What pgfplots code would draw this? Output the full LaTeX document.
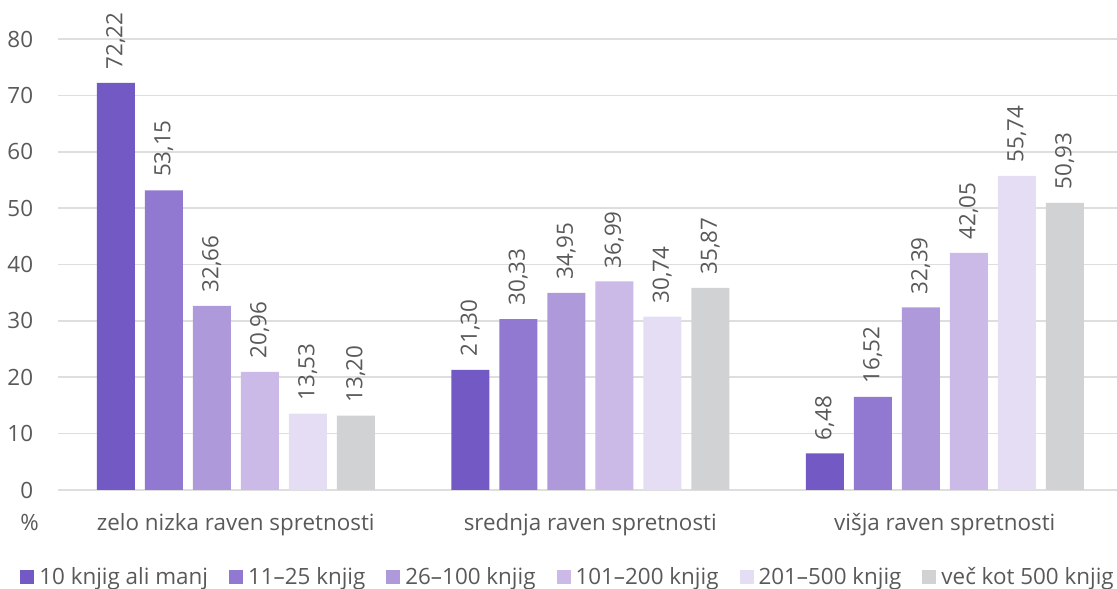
\documentclass[border=0pt]{standalone}
\usepackage{fontspec}
\setmainfont{Open Sans}
\usepackage{pgfplots}
\pgfplotsset{compat=1.18}
\definecolor{c1}{HTML}{7259C3}
\definecolor{c2}{HTML}{9178D0}
\definecolor{c3}{HTML}{AE9ADB}
\definecolor{c4}{HTML}{CBB9E7}
\definecolor{c5}{HTML}{E4DDF3}
\definecolor{c6}{HTML}{D1D2D4}
\definecolor{txt}{HTML}{595959}
\definecolor{gridc}{HTML}{DEDEDE}
\begin{document}
\begin{tikzpicture}[font=\fontsize{11.2}{13.4}\selectfont]
\useasboundingbox (-29.25pt,-49pt) rectangle (529.25pt,245pt);
\begin{axis}[
  at={(0,0)}, anchor=south west,
  width=529.1pt, height=225.5pt, scale only axis,
  ybar=5pt, bar width=19pt,
  xmin=-0.5, xmax=2.485, ymin=0, ymax=80,
  xtick={0,1,2},
  xticklabels={zelo nizka raven spretnosti, srednja raven spretnosti, višja raven spretnosti},
  ytick={0,10,...,80},
  ymajorgrids, grid style={gridc, line width=0.8pt},
  axis line style={draw=none}, major tick length=0pt,
  tick style={draw=none},
  ticklabel style={text=txt},
  xticklabel style={anchor=base, yshift=-20pt},
  yticklabel style={anchor=east, inner sep=0pt, xshift=-12.5pt},
  /pgf/number format/assume math mode=true,
  clip=false,
  nodes near coords,
  nodes near coords style={rotate=90, anchor=west, text=txt, inner xsep=6.5pt,
    /pgf/number format/.cd, fixed, fixed zerofill, precision=2, use comma, assume math mode=true},
  legend columns=6,
  legend style={draw=none, fill=none, at={(0.4829,-0.193)}, anchor=center,
    text=txt, /tikz/every even column/.append style={column sep=8pt},
    nodes={inner xsep=2.5pt}},
  legend image code/.code={\path[#1, draw=none] (0pt,-3.5pt) rectangle (7pt,3.5pt);},
]
\addplot[fill=c1, draw=none] coordinates {(0,72.22) (1,21.30) (2,6.48)};
\addplot[fill=c2, draw=none] coordinates {(0,53.15) (1,30.33) (2,16.52)};
\addplot[fill=c3, draw=none] coordinates {(0,32.66) (1,34.95) (2,32.39)};
\addplot[fill=c4, draw=none] coordinates {(0,20.96) (1,36.99) (2,42.05)};
\addplot[fill=c5, draw=none] coordinates {(0,13.53) (1,30.74) (2,55.74)};
\addplot[fill=c6, draw=none] coordinates {(0,13.20) (1,35.87) (2,50.93)};
\legend{10 knjig ali manj, 11–25 knjig, 26–100 knjig, 101–200 knjig, 201–500 knjig, več kot 500 knjig}
\end{axis}
\node[anchor=base, text=txt] at (-14.5pt,-20pt) {\%};
\end{tikzpicture}
\end{document}
